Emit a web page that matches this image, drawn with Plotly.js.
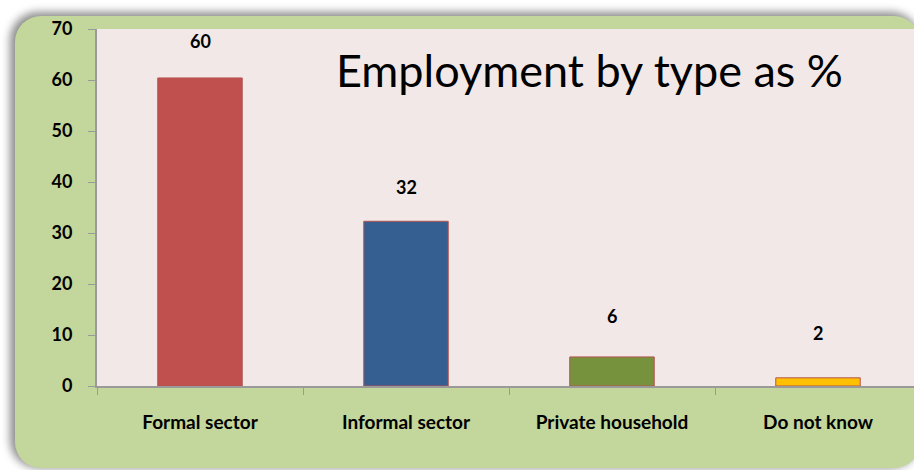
<!DOCTYPE html>
<html>
<head>
<meta charset="utf-8">
<script src="https://cdn.plot.ly/plotly-3.0.1.min.js"></script>
<style>
html,body{margin:0;padding:0;width:914px;height:470px;overflow:hidden;background:#ffffff;}
#frame{position:absolute;left:15px;top:16px;width:905px;height:452px;border-radius:26px;background:#c3d69b;box-shadow:-3px -2px 8px 2px rgba(0,0,0,0.45);}
#chart{position:absolute;left:0;top:0;width:921px;height:470px;}
</style>
</head>
<body>
<div id="frame"></div>
<div id="chart"></div>
<script>
const categories = ["Formal sector", "Informal sector", "Private household", "Do not know"];
const values = [60.4, 32.3, 5.7, 1.6];
const valueLabels = ["60", "32", "6", "2"];
const labelShifts = [36, 33, 40, 44];
const barColors = ["#c0504d", "#365f91", "#76923c", "#ffc000"];
const yTicks = [0, 10, 20, 30, 40, 50, 60, 70];

const trace = {
  type: "bar",
  x: categories,
  y: values,
  width: 0.41,
  marker: {color: barColors, line: {color: "#b5534f", width: 1}},
  hoverinfo: "skip"
};

const annotations = categories.map((c, i) => ({
  x: c, y: values[i], text: valueLabels[i], showarrow: false,
  xanchor: "center", yanchor: "bottom", yshift: labelShifts[i] - 12,
  font: {family: "Lato, 'Open Sans', sans-serif", size: 18, color: "#000", weight: "bold"}
}));

annotations.push({
  xref: "paper", yref: "paper", x: 0.598, y: 0.885,
  text: "Employment by type as %", showarrow: false, xanchor: "center", yanchor: "middle",
  font: {family: "Lato, 'Open Sans', sans-serif", size: 45, color: "#000"}
});

const layout = {
  width: 921, height: 470,
  margin: {l: 97, r: 0, t: 29, b: 84, pad: 0},
  paper_bgcolor: "rgba(0,0,0,0)",
  plot_bgcolor: "#f2e8e8",
  showlegend: false,
  xaxis: {
    type: "category", range: [-0.5, 3.5],
    showline: true, linecolor: "#9a9a9a", linewidth: 2,
    ticks: "outside", tickson: "boundaries", ticklen: 7, tickcolor: "#9a9a9a", tickwidth: 1,
    ticklabelstandoff: 18,
    tickfont: {family: "Lato, 'Open Sans', sans-serif", size: 19, color: "#000", weight: "bold"},
    showgrid: false, zeroline: false, fixedrange: true
  },
  yaxis: {
    range: [0, 70], tickvals: yTicks, ticktext: yTicks.map(String),
    showline: true, linecolor: "#9a9a9a", linewidth: 2,
    ticks: "outside", ticklen: 7, tickcolor: "#9a9a9a", tickwidth: 1,
    ticklabelstandoff: 12,
    tickfont: {family: "Lato, 'Open Sans', sans-serif", size: 18, color: "#000", weight: "bold"},
    showgrid: false, zeroline: false, fixedrange: true
  },
  annotations: annotations
};

Plotly.newPlot("chart", [trace], layout, {displayModeBar: false, staticPlot: true});
</script>
</body>
</html>
